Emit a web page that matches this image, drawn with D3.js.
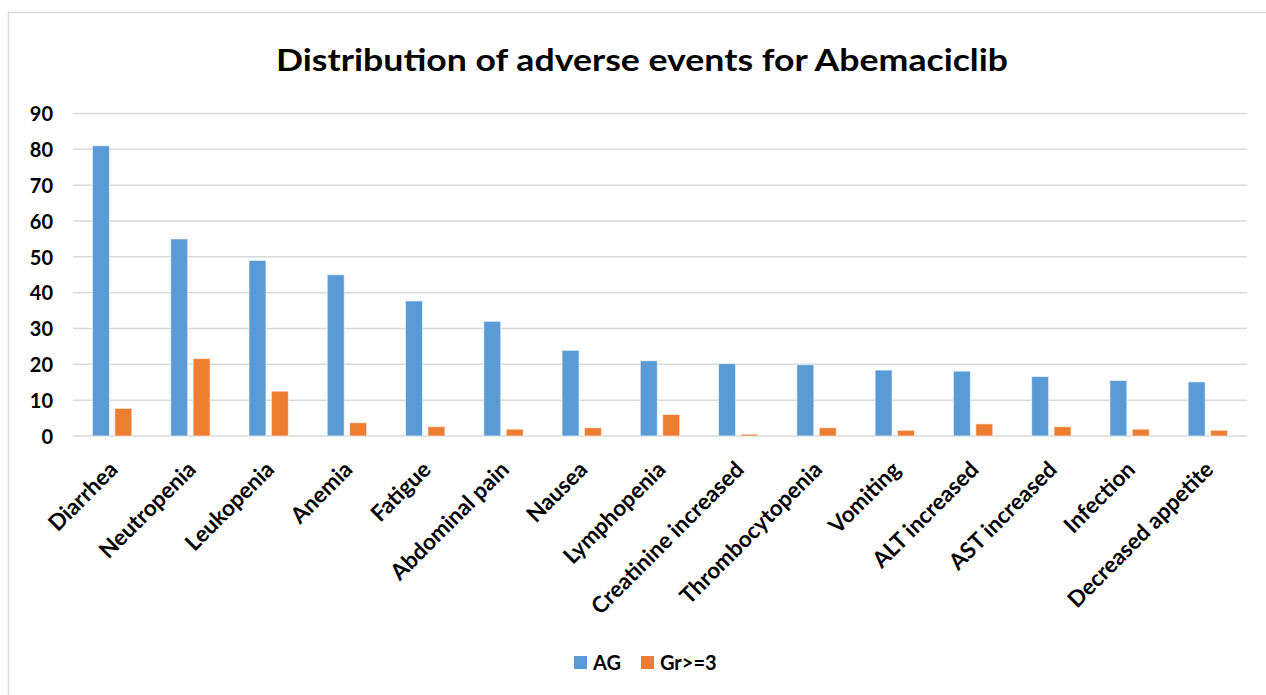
<!DOCTYPE html>
<html>
<head>
<meta charset="utf-8">
<script src="https://cdn.jsdelivr.net/npm/d3@7"></script>
<style>
  body { margin: 0; background: #fff; }
  svg text { font-family: Lato, "Open Sans", sans-serif; font-weight: bold; fill: #000; }
</style>
</head>
<body>
<svg id="chart" width="1266" height="695"></svg>
<script>
// chart data
var categories = ["Diarrhea", "Neutropenia", "Leukopenia", "Anemia", "Fatigue", "Abdominal pain",
    "Nausea", "Lymphopenia", "Creatinine increased", "Thrombocytopenia", "Vomiting",
    "ALT increased", "AST increased", "Infection", "Decreased appetite"];
var agValues = [81, 55, 49, 45, 37.7, 32, 23.9, 21, 20.2, 19.9, 18.4, 18.1, 16.6, 15.5, 15.1];
var gr3Values = [7.7, 21.6, 12.5, 3.7, 2.6, 1.9, 2.3, 6, 0.5, 2.3, 1.6, 3.4, 2.6, 1.9, 1.6];
var seriesNames = ["AG", "Gr>=3"];
var yTicks = [0, 10, 20, 30, 40, 50, 60, 70, 80, 90];

var colors = ["#5B9BD5", "#ED7D31"];

var svg = d3.select("#chart");

// outer frame
svg.append("rect")
    .attr("x", 8.5).attr("y", 12.5)
    .attr("width", 1300).attr("height", 720)
    .attr("fill", "none")
    .attr("stroke", "#d9d9d9")
    .attr("stroke-width", 1.5);

// title
svg.append("text")
    .attr("x", 642).attr("y", 71)
    .attr("text-anchor", "middle")
    .style("font-size", "31px")
    .attr("textLength", 732)
    .attr("lengthAdjust", "spacingAndGlyphs")
    .text("Distribution of adverse events for Abemaciclib");

var m = { left: 73, right: 19, top: 113.5, bottom: 259 };
var w = 1266 - m.left - m.right;
var h = 695 - m.top - m.bottom;

var g = svg.append("g").attr("transform", "translate(" + m.left + "," + m.top + ")");

var x = d3.scaleBand().domain(categories).range([0, w]);
var y = d3.scaleLinear().domain([0, 90]).range([h, 0]);

// gridlines
g.selectAll(".grid").data(yTicks).enter().append("line")
    .attr("x1", 0).attr("x2", w)
    .attr("y1", function (d) { return y(d); })
    .attr("y2", function (d) { return y(d); })
    .attr("stroke", "#d9d9d9")
    .attr("stroke-width", 1.5);

// y axis labels
var yAxis = d3.axisLeft(y).tickValues(yTicks).tickSize(0).tickPadding(20);
var gY = g.append("g").call(yAxis);
gY.select(".domain").remove();
gY.selectAll("text").style("font-size", "20px").attr("dy", "0.36em");

// bars
var barW = 17, gap = 5.4;
var series = [agValues, gr3Values];
series.forEach(function (vals, si) {
    g.selectAll(".bar" + si).data(vals).enter().append("rect")
        .attr("x", function (d, i) {
            var c = x(categories[i]) + x.bandwidth() / 2;
            return si === 0 ? c - gap / 2 - barW : c + gap / 2;
        })
        .attr("y", function (d) { return y(d); })
        .attr("width", barW)
        .attr("height", function (d) { return h - y(d); })
        .attr("fill", colors[si])
        .attr("stroke", "#fff")
        .attr("stroke-opacity", 0.6)
        .attr("stroke-width", 1);
});

// x labels, rotated
g.selectAll(".xlab").data(categories).enter().append("text")
    .attr("text-anchor", "end")
    .style("font-size", "22.5px")
    .attr("transform", function (d) {
        return "translate(" + (x(d) + x.bandwidth() / 2 + 7) + "," + (h + 35) + ") rotate(-45)";
    })
    .text(function (d) { return d; });

// legend
var legend = svg.append("g").attr("transform", "translate(574,656)");
var lx = [0, 67];
seriesNames.forEach(function (name, i) {
    legend.append("rect")
        .attr("x", lx[i]).attr("y", 0)
        .attr("width", 13).attr("height", 13)
        .attr("fill", colors[i]);
    legend.append("text")
        .attr("x", lx[i] + 19).attr("y", 14)
        .style("font-size", "20px")
        .text(name);
});
</script>
</body>
</html>
